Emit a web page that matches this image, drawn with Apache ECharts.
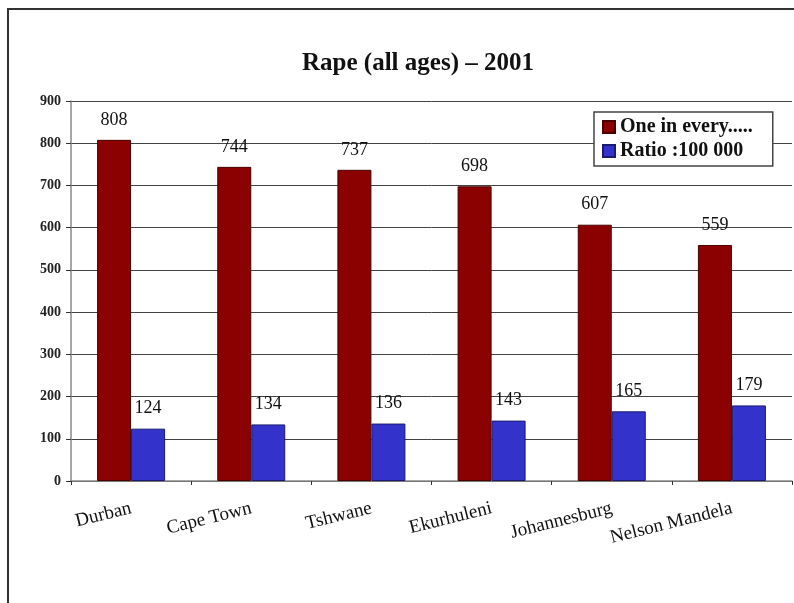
<!DOCTYPE html>
<html>
<head>
<meta charset="utf-8">
<script src="https://cdn.jsdelivr.net/npm/echarts@6/dist/echarts.min.js"></script>
<style>
html,body{margin:0;padding:0;background:#fff;}
#chart{width:794px;height:603px;}
</style>
</head>
<body>
<div id="chart"></div>
<script>
const categories = ['Durban', 'Cape Town', 'Tshwane', 'Ekurhuleni', 'Johannesburg', 'Nelson Mandela'];
const oneInEvery = [808, 744, 737, 698, 607, 559];
const ratio100000 = [124, 134, 136, 143, 165, 179];
const seriesNames = ['One in every.....', 'Ratio :100 000'];
const yTicks = { min: 0, max: 900, interval: 100 };

const chart = echarts.init(document.getElementById('chart'), null, { renderer: 'canvas' });
const serif = '"Liberation Serif", "Times New Roman", serif';
const labelStyle = { show: true, position: 'top', distance: 11, fontFamily: serif, fontSize: 18, color: '#111' };

chart.setOption({
  animation: false,
  backgroundColor: '#fff',
  title: {
    text: 'Rape (all ages) \u2013 2001',
    left: 413, top: 46, textAlign: 'center',
    textStyle: { fontFamily: serif, fontWeight: 'bold', fontSize: 25, color: '#111' }
  },
  graphic: [{
    type: 'polyline',
    shape: { points: [[8, 603], [8, 9], [794, 9]] },
    style: { stroke: '#333', lineWidth: 2, fill: null }
  }],
  legend: {
    orient: 'vertical',
    left: 594, top: 112,
    padding: [5, 20, 5, 8],
    itemGap: 4,
    itemWidth: 12, itemHeight: 12,
    backgroundColor: '#fff',
    borderColor: '#444', borderWidth: 1.5,
    textStyle: { fontFamily: serif, fontWeight: 'bold', fontSize: 20, color: '#111' },
    data: seriesNames.map(n => ({ name: n, icon: 'rect' }))
  },
  grid: { left: 71, right: 2, top: 101, bottom: 122, containLabel: false },
  xAxis: {
    type: 'category',
    data: categories,
    axisLine: { lineStyle: { color: '#888', width: 1.5 } },
    axisTick: { show: true, alignWithLabel: false, length: 4, lineStyle: { color: '#333' } },
    axisLabel: { rotate: 14, margin: 27, fontFamily: serif, fontSize: 19, color: '#111' }
  },
  yAxis: {
    type: 'value',
    min: yTicks.min, max: yTicks.max, interval: yTicks.interval,
    axisLine: { show: true, lineStyle: { color: '#888', width: 1.5 } },
    axisTick: { show: true, length: 5, lineStyle: { color: '#333' } },
    axisLabel: { margin: 10, fontFamily: serif, fontWeight: 'bold', fontSize: 14, color: '#222' },
    splitLine: { lineStyle: { color: '#444', width: 1 } }
  },
  series: [
    {
      name: seriesNames[0], type: 'bar', data: oneInEvery,
      barWidth: 34, barGap: '0%',
      itemStyle: { color: '#8b0000', borderColor: '#4a0000', borderWidth: 1 },
      label: labelStyle
    },
    {
      name: seriesNames[1], type: 'bar', data: ratio100000,
      barWidth: 34,
      itemStyle: { color: '#3333cc', borderColor: '#1a1a70', borderWidth: 1 },
      label: labelStyle
    }
  ]
});
</script>
</body>
</html>
